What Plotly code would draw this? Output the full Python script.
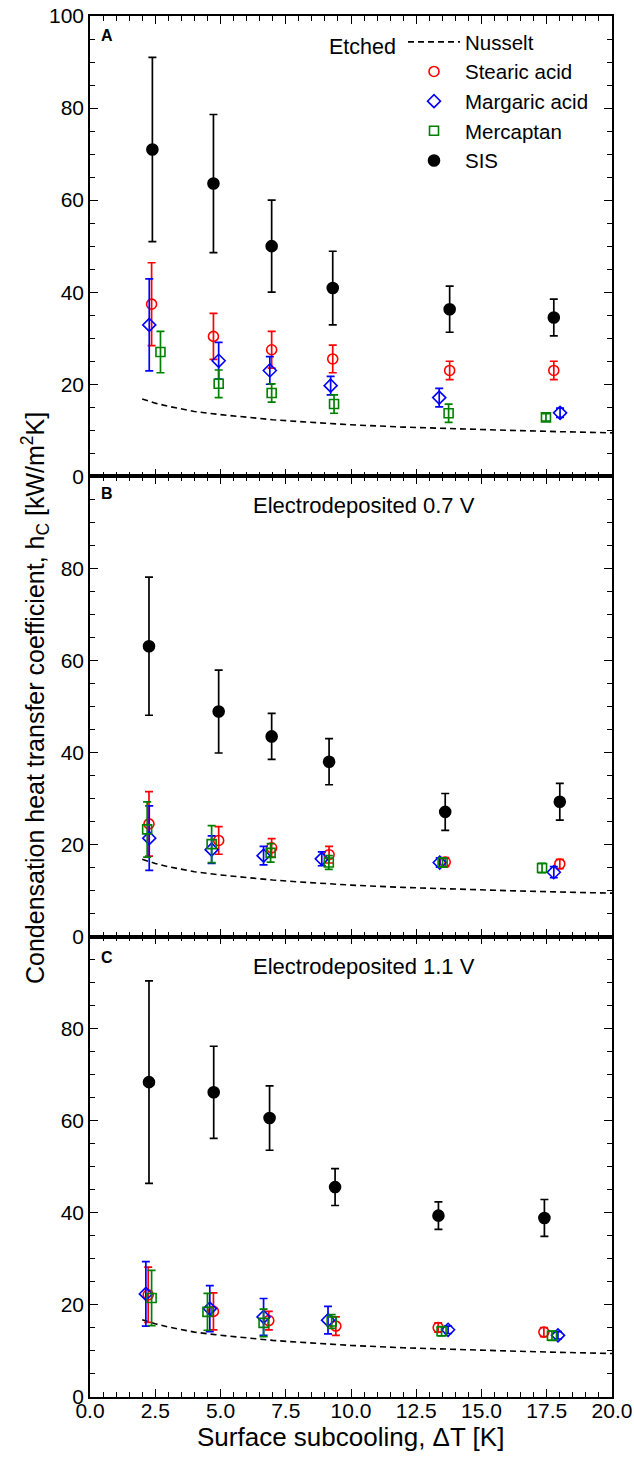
import plotly.graph_objects as go
from plotly.subplots import make_subplots

# ---------------- data ----------------
# Nusselt film-condensation prediction (same in every panel)
nusselt_dT = [2.0, 2.5, 3.0, 4.0, 5.0, 6.0, 7.0, 8.0, 10.0, 12.0, 14.0, 16.0, 18.0, 20.0]
nusselt_h = [16.8, 15.9, 15.2, 14.1, 13.4, 12.8, 12.3, 11.9, 11.2, 10.7, 10.3, 10.0, 9.7, 9.45]

# Panel A - etched
a_sis_dT = [2.39, 4.73, 6.96, 9.30, 13.78, 17.77]
a_sis_h = [71.0, 63.6, 50.0, 40.9, 36.3, 34.5]
a_sis_err = [20, 15, 10, 8, 5, 4]
a_stearic_dT = [2.36, 4.73, 6.96, 9.30, 13.78, 17.77]
a_stearic_h = [37.4, 30.4, 27.5, 25.5, 23.0, 23.0]
a_stearic_err = [9, 5, 4, 3, 2, 2]
a_margaric_dT = [2.27, 4.93, 6.89, 9.22, 13.38, 18.01]
a_margaric_h = [32.9, 25.1, 23.0, 19.7, 17.1, 13.8]
a_margaric_err = [10, 4, 3, 2, 2, 1]
a_mercaptan_dT = [2.70, 4.93, 6.96, 9.35, 13.74, 17.47]
a_mercaptan_h = [27.0, 20.1, 18.1, 15.7, 13.7, 12.8]
a_mercaptan_err = [4.5, 3, 2, 2, 2, 0.8]

# Panel B - electrodeposited 0.7 V
b_sis_dT = [2.26, 4.93, 6.96, 9.16, 13.61, 18.00]
b_sis_h = [63.1, 48.9, 43.5, 38.0, 27.1, 29.3]
b_sis_err = [15, 9, 5, 5, 4, 4]
b_stearic_dT = [2.26, 4.93, 6.96, 9.16, 13.61, 18.00]
b_stearic_h = [24.5, 20.9, 19.3, 17.8, 16.2, 15.8]
b_stearic_err = [7, 3, 2, 1.8, 1, 1]
b_margaric_dT = [2.27, 4.66, 6.65, 8.88, 13.40, 17.77]
b_margaric_h = [21.4, 18.9, 17.6, 16.9, 16.1, 14.0]
b_margaric_err = [7, 3, 2, 1.5, 1, 1.2]
b_mercaptan_dT = [2.19, 4.66, 6.92, 9.15, 13.51, 17.32]
b_mercaptan_h = [23.3, 20.1, 18.2, 16.1, 16.1, 14.9]
b_mercaptan_err = [6, 4, 2, 1.5, 1, 1]

# Panel C - electrodeposited 1.1 V
c_sis_dT = [2.26, 4.74, 6.88, 9.39, 13.35, 17.41]
c_sis_h = [68.4, 66.2, 60.6, 45.6, 39.4, 38.9]
c_sis_err = [22, 10, 7, 4, 3, 4]
c_stearic_dT = [2.23, 4.73, 6.85, 9.42, 13.34, 17.39]
c_stearic_h = [22.2, 18.6, 16.6, 15.4, 15.1, 14.1]
c_stearic_err = [6, 4, 2, 2, 1, 1]
c_margaric_dT = [2.14, 4.59, 6.65, 9.12, 13.72, 17.93]
c_margaric_h = [22.4, 19.2, 17.4, 16.7, 14.6, 13.4]
c_margaric_err = [7, 5, 4, 3, 0.8, 0.8]
c_mercaptan_dT = [2.36, 4.50, 6.65, 9.26, 13.47, 17.70]
c_mercaptan_h = [21.5, 18.5, 16.1, 16.4, 14.3, 13.3]
c_mercaptan_err = [6, 4, 3, 1.5, 1, 1]

panel_titles = ["Etched", "Electrodeposited 0.7 V", "Electrodeposited 1.1 V"]
panel_letters = ["A", "B", "C"]
x_ticks = [0, 2.5, 5, 7.5, 10, 12.5, 15, 17.5, 20]
y_ticks = [0, 20, 40, 60, 80, 100]

# ---------------- styling ----------------
FONT = "Liberation Sans, Arial, Helvetica, sans-serif"
W, H = 634, 1457
L, R, T, B = 90, 22, 16, 60
PW, PH = W - L - R, H - T - B

series_style = {
    "Stearic acid": dict(symbol="circle-open", color="#ff0000", size=10),
    "Margaric acid": dict(symbol="diamond-open", color="#0000ff", size=10),
    "Mercaptan": dict(symbol="square-open", color="#008000", size=9),
    "SIS": dict(symbol="circle", color="#000000", size=11),
}

panels = [
    {
        "Stearic acid": (a_stearic_dT, a_stearic_h, a_stearic_err),
        "Margaric acid": (a_margaric_dT, a_margaric_h, a_margaric_err),
        "Mercaptan": (a_mercaptan_dT, a_mercaptan_h, a_mercaptan_err),
        "SIS": (a_sis_dT, a_sis_h, a_sis_err),
    },
    {
        "Stearic acid": (b_stearic_dT, b_stearic_h, b_stearic_err),
        "Margaric acid": (b_margaric_dT, b_margaric_h, b_margaric_err),
        "Mercaptan": (b_mercaptan_dT, b_mercaptan_h, b_mercaptan_err),
        "SIS": (b_sis_dT, b_sis_h, b_sis_err),
    },
    {
        "Stearic acid": (c_stearic_dT, c_stearic_h, c_stearic_err),
        "Margaric acid": (c_margaric_dT, c_margaric_h, c_margaric_err),
        "Mercaptan": (c_mercaptan_dT, c_mercaptan_h, c_mercaptan_err),
        "SIS": (c_sis_dT, c_sis_h, c_sis_err),
    },
]


def px_x(px):
    return (px - L) / PW


def px_y(py):
    return (H - B - py) / PH


fig = make_subplots(rows=3, cols=1, shared_xaxes=True, vertical_spacing=0)

for i, panel in enumerate(panels):
    row = i + 1
    first = i == 0
    fig.add_trace(
        go.Scatter(
            x=nusselt_dT, y=nusselt_h, mode="lines", name="Nusselt",
            line=dict(color="black", width=1.6, dash="6px,4px"),
            showlegend=first, legendrank=1,
        ),
        row=row, col=1,
    )
    for rank, (name, (xs, ys, es)) in enumerate(panel.items()):
        st = series_style[name]
        fig.add_trace(
            go.Scatter(
                x=xs, y=ys, mode="markers", name=name,
                marker=dict(symbol=st["symbol"], size=st["size"], color=st["color"],
                            line=dict(width=1.6, color=st["color"])),
                error_y=dict(type="data", array=es, visible=True, color=st["color"],
                             thickness=1.7, width=4),
                showlegend=first, legendrank=rank + 2,
            ),
            row=row, col=1,
        )

axis_common = dict(
    showline=True, linecolor="black", linewidth=1.6, mirror="ticks",
    ticks="inside", ticklen=8, tickwidth=1.4, tickcolor="black",
    showgrid=False, zeroline=False, automargin=False,
    tickfont=dict(family=FONT, size=21, color="black"),
)

for i in range(3):
    yname = "yaxis" if i == 0 else f"yaxis{i + 1}"
    xname = "xaxis" if i == 0 else f"xaxis{i + 1}"
    labels = [str(v) for v in y_ticks]
    if i > 0:
        labels[-1] = ""
    fig.layout[yname].update(
        range=[0, 100], tickmode="array", tickvals=y_ticks, ticktext=labels,
        minor=dict(tick0=0, dtick=5, ticks="inside", ticklen=5, tickwidth=1.2, tickcolor="black"),
        **axis_common,
    )
    fig.layout[xname].update(
        range=[0, 20], tickmode="array", tickvals=x_ticks,
        ticktext=[f"{v:.1f}" for v in x_ticks], ticklabelstandoff=-6,
        minor=dict(tick0=0, dtick=0.5, ticks="inside", ticklen=5, tickwidth=1.2, tickcolor="black"),
        **axis_common,
    )

annotations = []
letter_y = [35, 494, 957]
for i in range(3):
    annotations.append(dict(
        text=f"<b>{panel_letters[i]}</b>", x=px_x(107), y=px_y(letter_y[i]),
        xref="paper", yref="paper", xanchor="center", yanchor="middle",
        showarrow=False, font=dict(family=FONT, size=16, color="black"),
    ))
annotations.append(dict(
    text=panel_titles[0], x=px_x(362), y=px_y(47), xref="paper", yref="paper",
    xanchor="center", yanchor="middle", showarrow=False,
    font=dict(family=FONT, size=21.5, color="black"),
))
for i, yy in zip([1, 2], [506, 966]):
    annotations.append(dict(
        text=panel_titles[i], x=px_x(364), y=px_y(yy), xref="paper", yref="paper",
        xanchor="center", yanchor="middle", showarrow=False,
        font=dict(family=FONT, size=22, color="black"),
    ))
annotations.append(dict(
    text="Surface subcooling, \u0394T [K]", x=px_x(350), y=px_y(1437),
    xref="paper", yref="paper", xanchor="center", yanchor="middle", showarrow=False,
    font=dict(family=FONT, size=26, color="black"),
))
annotations.append(dict(
    text="Condensation heat transfer coefficient, h<sub>C</sub> [kW/m<sup>2</sup>K]",
    x=px_x(35), y=px_y(698), xref="paper", yref="paper", textangle=-90,
    xanchor="center", yanchor="middle", showarrow=False,
    font=dict(family=FONT, size=25, color="black"),
))

fig.update_layout(
    width=W, height=H,
    margin=dict(l=L, r=R, t=T, b=B),
    paper_bgcolor="white", plot_bgcolor="white",
    font=dict(family=FONT, color="black"),
    annotations=annotations,
    showlegend=True,
    legend=dict(
        x=px_x(403), y=px_y(22), xanchor="left", yanchor="top",
        bgcolor="rgba(0,0,0,0)", borderwidth=0,
        font=dict(family=FONT, size=20.5, color="black"),
        itemwidth=52, tracegroupgap=0, traceorder="normal",
    ),
)

fig.write_html("out.html")
